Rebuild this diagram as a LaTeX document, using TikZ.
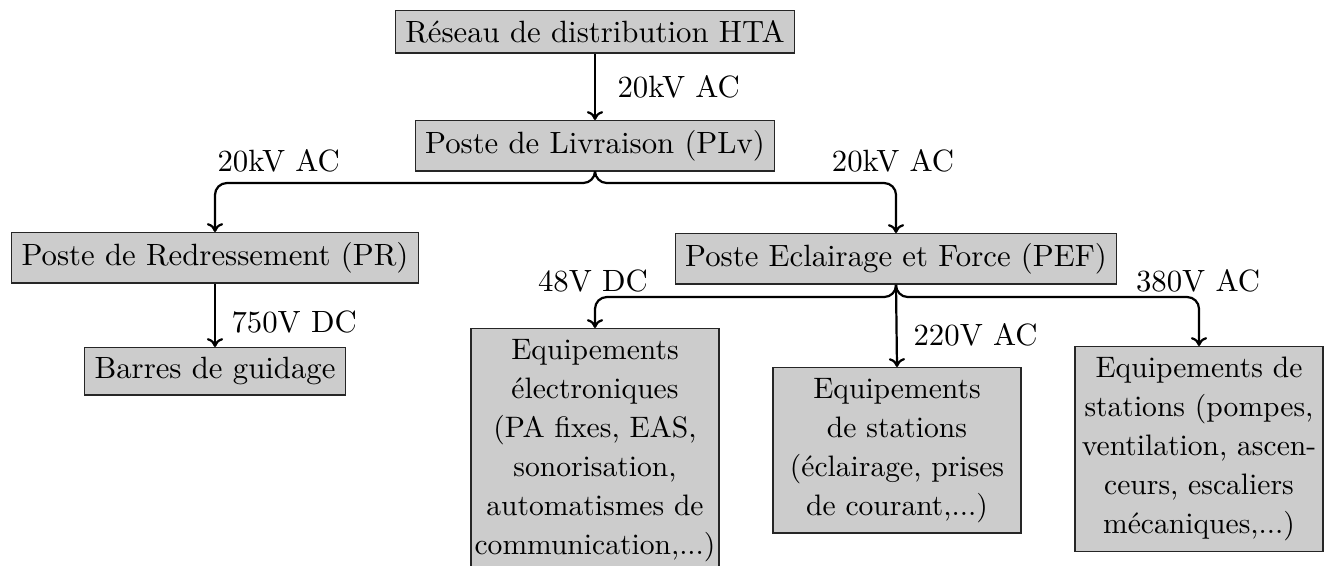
\documentclass[tikz,border=0pt]{standalone}
\usetikzlibrary{arrows.meta}
\begin{document}
\begin{tikzpicture}[x=0.338pt,y=-0.338pt,
  box/.style={draw=black!85, fill=black!20, line width=0.5pt, inner sep=3.33pt, font=\fontsize{10.4}{12.5}\selectfont},
  mbox/.style={box, align=center, inner xsep=0pt, inner ysep=3.5pt, minimum width=83.8pt, font=\fontsize{10}{13.2}\selectfont},
  lbl/.style={font=\fontsize{10.4}{12.5}\selectfont, inner sep=0pt},
  arr/.style={-{To[length=3pt,width=5.5pt]}, line width=0.75pt, rounded corners=4pt}
]
\useasboundingbox (0,0) rectangle (1329,565);
\node[box, anchor=north] (hta) at (595,10) {Réseau de distribution HTA};
\node[box, anchor=north] (plv) at (595,120) {Poste de Livraison (PLv)};
\node[box, anchor=north] (pr) at (215,232) {Poste de Redressement (PR)};
\node[box, anchor=north] (pef) at (896,233) {Poste Eclairage et Force (PEF)};
\node[box, anchor=north] (bar) at (215,347) {Barres de guidage};
\node[mbox, anchor=north] (eq1) at (595,328) {Equipements\\électroniques\\(PA fixes, EAS,\\sonorisation,\\automatismes de\\communication,...)};
\node[mbox, anchor=north] (eq2) at (897,367) {Equipements\\de stations\\(éclairage, prises\\de courant,...)};
\node[mbox, anchor=north] (eq3) at (1199,346) {Equipements de\\stations (pompes,\\ventilation, ascen-\\ceurs, escaliers\\mécaniques,...)};
\coordinate (s1) at (595,183);
\coordinate (s2) at (896,297);
\draw[arr] (hta.south) -- (plv.north);
\node[lbl, anchor=west] (l1) at (617,87) {20kV AC};
\draw[arr] (plv.south) -- (s1) -| (pr.north);
\draw[arr] (plv.south) -- (s1) -| (pef.north);
\node[lbl, anchor=west] (l2) at (217,161) {20kV AC};
\node[lbl] (l3) at (893,161) {20kV AC};
\draw[arr] (pr.south) -- (bar.north);
\node[lbl, anchor=west] (l4) at (231,322) {750V DC};
\draw[arr] (pef.south) -- (s2) -| (eq1.north);
\draw[arr] (pef.south) -- (eq2.north);
\draw[arr] (pef.south) -- (s2) -| (eq3.north);
\node[lbl] (l5) at (593,281) {48V DC};
\node[lbl, anchor=west] (l6) at (913,335) {220V AC};
\node[lbl] (l7) at (1198,281) {380V AC};
\end{tikzpicture}
\end{document}
